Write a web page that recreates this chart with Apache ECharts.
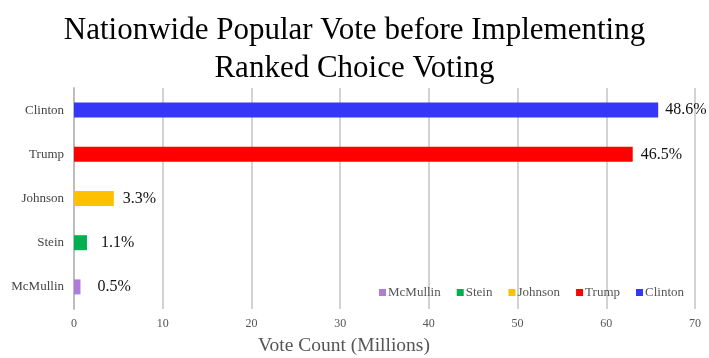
<!DOCTYPE html>
<html><head><meta charset="utf-8">
<script src="https://cdn.jsdelivr.net/npm/echarts@6/dist/echarts.min.js"></script>
<style>html,body{margin:0;padding:0;background:#fff}#c{width:709px;height:358px}</style>
</head><body><div id="c"></div>
<script>
const categories = ['McMullin', 'Stein', 'Johnson', 'Trump', 'Clinton'];
const votes = [0.73, 1.46, 4.49, 62.98, 65.85];
const shares = ['0.5%', '1.1%', '3.3%', '46.5%', '48.6%'];
const colors = ['#B07CD8', '#00B050', '#FFC000', '#FF0000', '#3636F8'];
const labelGaps = [17, 14, 9, 8, 7];
const xTicks = [0, 10, 20, 30, 40, 50, 60, 70];

const FONT = '"Liberation Serif", "Times New Roman", serif';
const chart = echarts.init(document.getElementById('c'));
const series = categories.map((name, i) => ({
  name: name,
  type: 'bar',
  stack: 'all',
  barWidth: 15,
  itemStyle: { color: colors[i] },
  label: {
    show: true, position: 'right', distance: labelGaps[i],
    formatter: () => shares[i],
    fontFamily: FONT, fontSize: 16, color: '#111'
  },
  data: categories.map((c, j) => j === i ? votes[i] : '-')
}));
chart.setOption({
  animation: false,
  textStyle: { fontFamily: FONT },
  title: {
    text: 'Nationwide Popular Vote before Implementing\nRanked Choice Voting',
    left: 'center', top: 7,
    textStyle: { fontFamily: FONT, fontSize: 31, fontWeight: 'normal', color: '#000', lineHeight: 38 }
  },
  legend: {
    data: categories,
    right: 20, top: 281,
    itemWidth: 7, itemHeight: 7, itemGap: 16,
    icon: 'rect',
    textStyle: { fontFamily: FONT, fontSize: 13, color: '#555', padding: [0, 0, 0, -3] }
  },
  grid: { left: 74, right: 14, top: 88, bottom: 49 },
  xAxis: {
    type: 'value', min: xTicks[0], max: xTicks[xTicks.length - 1], interval: 10,
    axisLine: { show: false }, axisTick: { show: false },
    splitLine: { lineStyle: { color: '#c4c4c4', width: 1.5 } },
    axisLabel: { fontFamily: FONT, fontSize: 12, color: '#555', margin: 9 }
  },
  yAxis: {
    type: 'category', data: categories,
    axisLine: { lineStyle: { color: '#bdbdbd', width: 2 } },
    axisTick: { show: false },
    axisLabel: { fontFamily: FONT, fontSize: 13, color: '#444', margin: 10 }
  },
  graphic: [{
    type: 'text', left: 258, top: 336,
    style: { text: 'Vote Count (Millions)', font: '19.5px ' + FONT, fill: '#555' }
  }],
  series: series
});
</script></body></html>
